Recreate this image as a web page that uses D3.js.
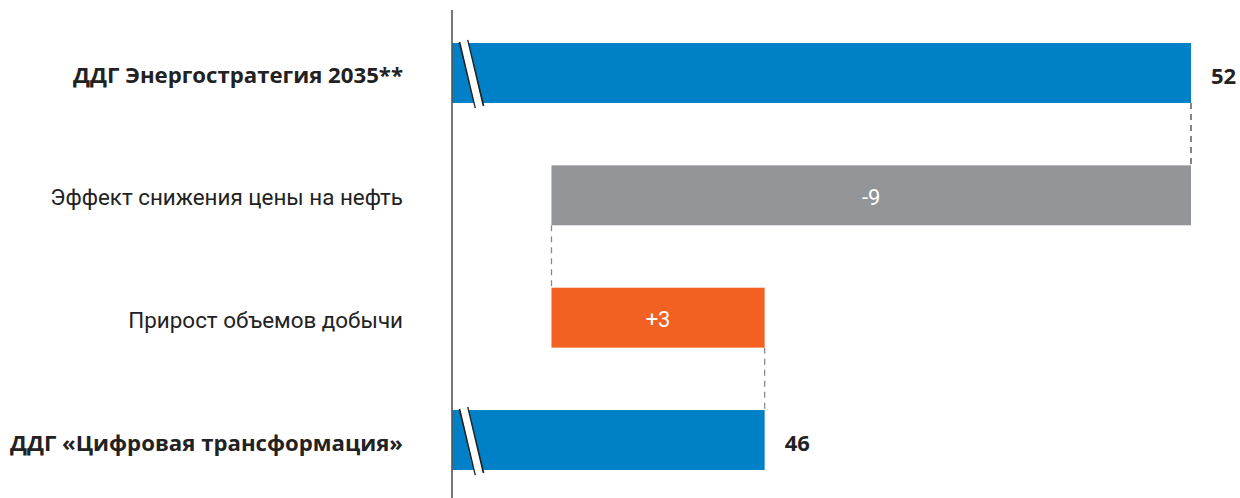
<!DOCTYPE html>
<html>
<head>
<meta charset="utf-8">
<script src="https://cdn.jsdelivr.net/npm/d3@7"></script>
<style>
  body { margin: 0; background: #fff; }
  svg { display: block; font-family: Roboto, "Noto Sans", sans-serif; }
</style>
</head>
<body>
<div id="chart"></div>
<script>
const categories = [
  "ДДГ Энергостратегия 2035**",
  "Эффект снижения цены на нефть",
  "Прирост объемов добычи",
  "ДДГ «Цифровая трансформация»"
];
const values = [52, -9, 3, 46];
const kinds = ["total", "delta", "delta", "total"];
const valueLabels = ["52", "-9", "+3", "46"];

const width = 1240, height = 498;
const colors = { total: "#0080c6", down: "#939598", up: "#f26122" };

// waterfall steps
let running = 0;
const data = categories.map((c, i) => {
  let x0, x1, color;
  if (kinds[i] === "total") {
    x0 = null; x1 = values[i]; running = values[i]; color = colors.total;
  } else {
    const prev = running;
    running += values[i];
    x0 = Math.min(prev, running); x1 = Math.max(prev, running);
    color = values[i] < 0 ? colors.down : colors.up;
  }
  return { cat: c, kind: kinds[i], x0, x1, end: running, color, label: valueLabels[i] };
});

const axisX = 452;
const x = d3.scaleLinear().domain([41.6, 52]).range([axisX, 1191]);
const y = d3.scaleBand().domain(categories).range([43, 470]).paddingInner(0.51).paddingOuter(0);

const svg = d3.select("#chart").append("svg")
  .attr("width", width)
  .attr("height", height);

// connectors
for (let i = 0; i < data.length - 1; i++) {
  const xv = data[i].end;
  svg.append("line")
    .attr("x1", x(xv)).attr("x2", x(xv))
    .attr("y1", y(categories[i]) + y.bandwidth())
    .attr("y2", y(categories[i + 1]))
    .attr("stroke", i === 0 ? "#444" : "#8a8a8a")
    .attr("stroke-width", 1.3)
    .attr("stroke-dasharray", "6,5");
}

// bars
svg.selectAll(".bar")
  .data(data)
  .enter()
  .append("rect")
  .attr("x", d => d.x0 === null ? axisX : x(d.x0))
  .attr("y", d => y(d.cat))
  .attr("width", d => x(d.x1) - (d.x0 === null ? axisX : x(d.x0)))
  .attr("height", y.bandwidth())
  .attr("fill", d => d.color);

// axis break marks on total bars
data.filter(d => d.kind === "total").forEach(d => {
  const top = y(d.cat) - 2, bot = y(d.cat) + y.bandwidth() + 4;
  const g = svg.append("g");
  g.append("line")
    .attr("x1", 463.5).attr("y1", top).attr("x2", 479.5).attr("y2", bot)
    .attr("stroke", "#222").attr("stroke-width", 10);
  g.append("line")
    .attr("x1", 463.5).attr("y1", top - 1).attr("x2", 479.5).attr("y2", bot + 1)
    .attr("stroke", "#fff").attr("stroke-width", 7);
});

// axis line
svg.append("line")
  .attr("x1", axisX).attr("x2", axisX)
  .attr("y1", 10).attr("y2", height)
  .attr("stroke", "#555")
  .attr("stroke-width", 1.6);

// category labels
svg.selectAll(".cat")
  .data(data)
  .enter()
  .append("text")
  .attr("x", 403)
  .attr("y", d => y(d.cat) + y.bandwidth() / 2 + 2)
  .attr("text-anchor", "end")
  .attr("dominant-baseline", "central")
  .attr("font-family", d => d.kind === "total" ? "'Open Sans', Roboto, sans-serif" : "Roboto, sans-serif")
  .attr("font-size", d => d.kind === "total" ? 22.2 : 22.4)
  .attr("font-weight", d => d.kind === "total" ? "bold" : "normal")
  .attr("fill", "#222")
  .text(d => d.cat);

// value labels
svg.selectAll(".val")
  .data(data)
  .enter()
  .append("text")
  .attr("x", d => d.kind === "total" ? x(d.x1) + 20 : (x(d.x0) + x(d.x1)) / 2)
  .attr("y", d => y(d.cat) + y.bandwidth() / 2 + 2)
  .attr("text-anchor", d => d.kind === "total" ? "start" : "middle")
  .attr("dominant-baseline", "central")
  .attr("font-family", d => d.kind === "total" ? "'Open Sans', Roboto, sans-serif" : "Roboto, sans-serif")
  .attr("font-size", 22)
  .attr("font-weight", d => d.kind === "total" ? "bold" : "normal")
  .attr("fill", d => d.kind === "total" ? "#222" : "#fff")
  .text(d => d.label);
</script>
</body>
</html>
